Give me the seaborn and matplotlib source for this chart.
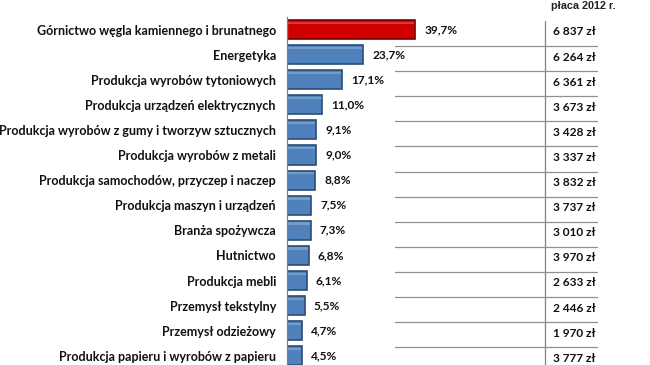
import pandas as pd
import matplotlib
matplotlib.use("Agg")
import matplotlib.pyplot as plt
import matplotlib.transforms as mtransforms
from matplotlib.patches import Rectangle
import seaborn as sns

# --- Datos ---
branze = [
    "Górnictwo węgla kamiennego i brunatnego",
    "Energetyka",
    "Produkcja wyrobów tytoniowych",
    "Produkcja urządzeń elektrycznych",
    "Produkcja wyrobów z gumy i tworzyw sztucznych",
    "Produkcja wyrobów z metali",
    "Produkcja samochodów, przyczep i naczep",
    "Produkcja maszyn i urządzeń",
    "Branża spożywcza",
    "Hutnictwo",
    "Produkcja mebli",
    "Przemysł tekstylny",
    "Przemysł odzieżowy",
    "Produkcja papieru i wyrobów z papieru",
]
udzial = [39.7, 23.7, 17.1, 11.0, 9.1, 9.0, 8.8, 7.5, 7.3, 6.8, 6.1, 5.5, 4.7, 4.5]
placa = ["6 837 zł", "6 264 zł", "6 361 zł", "3 673 zł", "3 428 zł", "3 337 zł", "3 832 zł",
         "3 737 zł", "3 010 zł", "3 970 zł", "2 633 zł", "2 446 zł", "1 970 zł", "3 777 zł"]
naglowek = "płaca 2012 r."

df = pd.DataFrame({"branza": branze, "udzial": udzial})
kolory = ["#D00000"] + ["#4F81BD"] * (len(branze) - 1)
krawedzie = ["#7A0000"] + ["#2C4D75"] * (len(branze) - 1)

sns.set_style("white")
plt.rcParams["font.family"] = ["Lato", "DejaVu Sans"]

W, H = 650, 365
fig = plt.figure(figsize=(6.5, 3.65), dpi=100)
# osie słupków: od x=287 do x=545 px, ~25.3 px na wiersz
row_h = 25.28
top = 17 - 0.1 * row_h
bottom = top + row_h * len(branze)
ax = fig.add_axes([287 / W, 1 - bottom / H, (545 - 287) / W, (bottom - top) / H])

sns.barplot(data=df, x="udzial", y="branza", hue="branza", palette=kolory,
            legend=False, width=0.76, ax=ax, saturation=1)

for p, ec in zip(ax.patches, krawedzie):
    p.set_edgecolor(ec)
    p.set_linewidth(1.2)
    # jasny pasek u góry słupka (efekt wypukłości)
    x0, y0 = p.get_x(), p.get_y()
    w, h = p.get_width(), p.get_height()
    ax.add_patch(Rectangle((x0 + 0.3, y0 + h * 0.08), max(w - 0.6, 0), h * 0.12,
                           facecolor="white", alpha=0.22, linewidth=0))

ax.set_xlim(0, 80)
ax.set_ylim(len(branze) - 0.6, -0.6)
ax.set_xlabel("")
ax.set_ylabel("")
ax.set_xticks([])
ax.set_yticks(range(len(branze)))
ax.set_yticklabels(branze, fontsize=9, fontweight="bold", color="#111111")
ax.set_yticks([i - 0.5 for i in range(len(branze) + 1)], minor=True)
ax.tick_params(axis="y", which="major", length=0, pad=8)
ax.tick_params(axis="y", which="minor", length=4, width=0.8, color="#808080", direction="out")
for s in ["top", "right", "bottom"]:
    ax.spines[s].set_visible(False)
ax.spines["left"].set_color("#808080")
ax.spines["left"].set_linewidth(0.9)
ax.spines["left"].set_bounds(-0.5, len(branze))

for i, v in enumerate(udzial):
    ax.text(v + 2.8, i, f"{v:.1f}%".replace(".", ","), va="center", ha="left",
            fontsize=8.6, fontweight="bold", color="#111111")

# tabela płac po prawej
off = 4 / row_h
tr = mtransforms.blended_transform_factory(fig.transFigure, ax.transData)
ax.plot([545 / W, 545 / W], [-0.5 + off, len(branze)], transform=tr,
        color="#808080", lw=0.9, clip_on=False)
for i in range(len(branze) - 1):
    yy = i + 0.5 + off
    ax.plot([395 / W, 597 / W], [yy, yy], transform=tr, color="#909090", lw=0.9, clip_on=False)
for i, t in enumerate(placa):
    ax.text(553 / W, i + off * 0.6, t, transform=tr, va="center", ha="left",
            fontsize=8.6, fontweight="bold", color="#111111")

fig.text(583 / W, 1 - 6 / H, naglowek, ha="center", va="center", fontsize=7.8,
         fontweight="bold", family=["Liberation Sans", "DejaVu Sans"], color="#222222")

fig.savefig("out.png", dpi=100, facecolor="white")
